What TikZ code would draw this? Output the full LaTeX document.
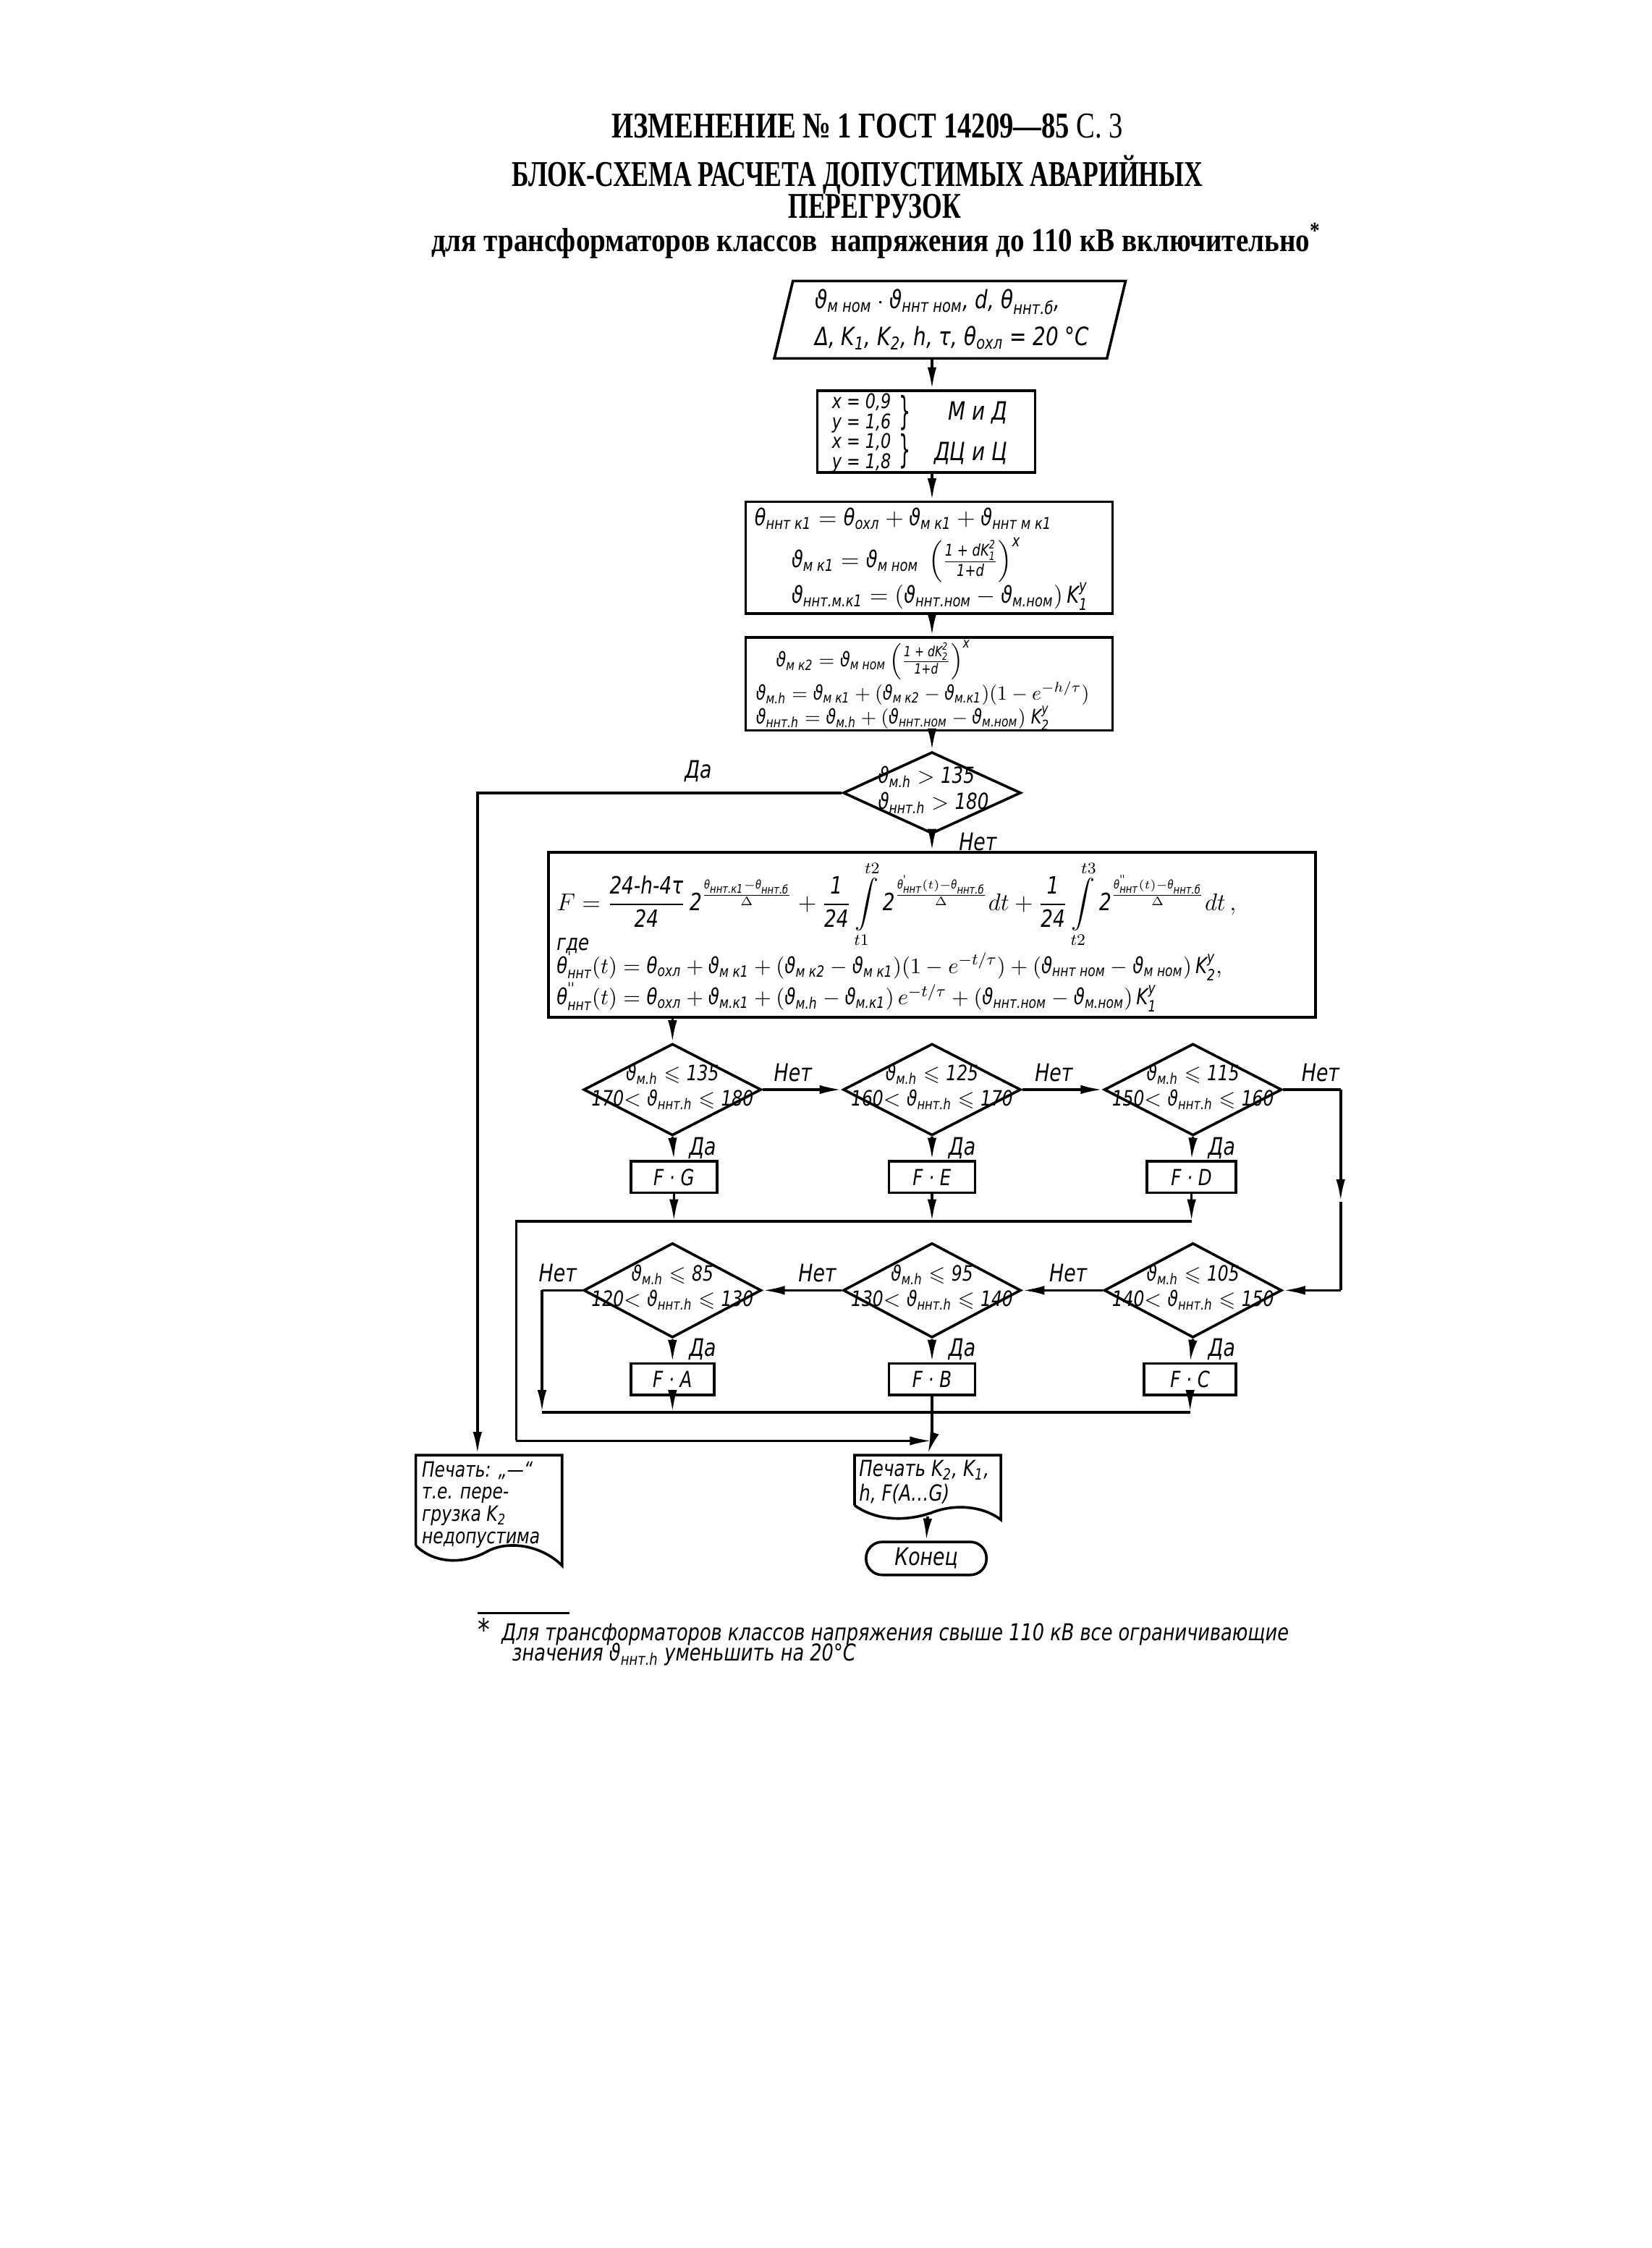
\documentclass[tikz,border=0pt]{standalone}
\usepackage{fontspec}
\usepackage{amsmath,amssymb}
\setmainfont{Liberation Serif}
\newfontfamily\titlefa[FakeStretch=0.77]{Liberation Serif}
\newfontfamily\titlefb[FakeStretch=0.71]{Liberation Serif}
\newfontfamily\titlefc[FakeStretch=0.85]{Liberation Serif}
\newfontfamily\gost[FakeStretch=0.8]{DejaVu Sans}
\usetikzlibrary{shapes.geometric,arrows.meta}
\newcommand\V[1]{\text{ϑ}_{\text{#1}}}
\newcommand\Th[1]{\text{θ}_{\text{#1}}}
\newcommand\Tp[2]{\text{θ}^{\text{#2}}_{\text{#1}}}
\newcommand\Kk[2]{\text{K}_{\text{#1}}^{\text{#2}}}
\newcommand\Ks[1]{\text{K}_{\text{#1}}}
\begin{document}
\begin{tikzpicture}[x=0.025cm,y=-0.025cm,
  sz/.style 2 args={minimum width=#1*0.025cm,minimum height=#2*0.025cm},
  blk/.style={draw,line width=1.3pt,inner sep=0pt},
  dia/.style={draw,diamond,line width=1.3pt,inner sep=0pt},
  arr/.style={line width=1.3pt,-{Latex[length=11pt,width=4.5pt]}},
  ln/.style={line width=1.3pt},
  txt/.style={font=\gost\itshape\fontsize{11}{13}\selectfont,inner sep=0pt},
  lbl/.style={font=\gost\itshape\fontsize{12}{14}\selectfont,inner sep=0pt},
  ttl/.style={inner sep=0pt}]
\useasboundingbox (0,0) rectangle (1152,1568);

% titles
\node[ttl,font=\titlefa\bfseries\fontsize{18}{20}\selectfont] (t1) at (605,88) {ИЗМЕНЕНИЕ № 1 ГОСТ 14209—85 {\mdseries С. 3}};
\node[ttl,font=\titlefb\bfseries\fontsize{18}{20}\selectfont] (t2) at (598,122) {БЛОК-СХЕМА РАСЧЕТА ДОПУСТИМЫХ АВАРИЙНЫХ};
\node[ttl,font=\titlefb\bfseries\fontsize{18}{20}\selectfont] (t3) at (610,144) {ПЕРЕГРУЗОК};
\node[ttl,font=\titlefc\bfseries\fontsize{16.5}{18}\selectfont] (t4) at (611,168) {для трансформаторов классов\ \ напряжения до 110 кВ включительно\textsuperscript{*}};

\coordinate (cx) at (650,0);
\coordinate (lx) at (333,0);
\coordinate (l1) at (360,0);
\coordinate (l2) at (378,0);
\coordinate (h1) at (0,852);
\coordinate (h3) at (0,985);
\coordinate (h2) at (0,1005);

% input
\node[txt,align=left,font=\gost\itshape\fontsize{12.5}{15}\selectfont] (in) at (664,223) {$\V{м ном}\cdot\V{ннт ном}$, d, $\Th{ннт.б}$,\\[3pt]Δ, $\Ks{1}$, $\Ks{2}$, h, τ, $\Th{охл}$ = 20 °C};
\draw[ln] (540,250) -- (553,196) -- (785,196) -- (772,250) -- cycle;
\coordinate (inb) at (650,250);

% box 2
\node[blk,sz={152}{57}] (b2) at (646,301) {};
\node[txt,anchor=west,align=left,font=\gost\itshape\fontsize{10}{9.9}\selectfont] (b2a) at (580,302) {x = 0,9\\y = 1,6\\x = 1,0\\y = 1,8};
\node[txt,font=\gost\fontsize{19}{19}\selectfont] (br1) at (631,288) {\scalebox{0.6}[1]{\}}};
\node[txt,font=\gost\fontsize{19}{19}\selectfont] (br2) at (631,315) {\scalebox{0.6}[1]{\}}};
\node[txt,font=\gost\itshape\fontsize{12.5}{15}\selectfont] (b2c) at (682,288) {М и Д};
\node[txt,font=\gost\itshape\fontsize{12.5}{15}\selectfont] (b2d) at (677,316) {ДЦ и Ц};

% box 3
\node[blk,sz={256}{78}] (b3) at (648,389) {};
\node[txt,align=left,anchor=west,font=\gost\itshape\fontsize{11.5}{13}\selectfont] (b3t) at (526,390) {$\Th{ннт к1} = \Th{охл} + \V{м к1} + \V{ннт м к1}$\\[3pt]
\hspace{1.6em}$\V{м к1} = \V{м ном}\ \left(\frac{\text{1 + d}\Kk{1}{2}}{\text{1+d}}\right)^{\text{x}}$\\[-1pt]
\hspace{1.6em}$\V{ннт.м.к1} = (\V{ннт.ном} - \V{м.ном})\,\Kk{1}{y}$};

% box 4
\node[blk,sz={256}{65}] (b4) at (648,477) {};
\node[txt,align=left,anchor=west,font=\gost\itshape\fontsize{10}{12}\selectfont] (b4t) at (527,478) {\hspace{1em}$\V{м к2} = \V{м ном}\left(\frac{\text{1 + d}\Kk{2}{2}}{\text{1+d}}\right)^{\text{x}}$\\
$\V{м.h} = \V{м к1} + (\V{м к2} - \V{м.к1})(1 - e^{-h/\tau})$\\
$\V{ннт.h} = \V{м.h} + (\V{ннт.ном} - \V{м.ном})\ \Kk{2}{y}$};

% decision 0
\node[dia,sz={124}{57}] (d0) at (650,553) {};
\node[txt,align=left] (d0t) at (651,551) {$\V{м.h} > \text{135}$\\$\V{ннт.h} > \text{180}$};

% box 5
\node[blk,sz={535}{115}] (b5) at (650,652) {};
\node[txt,align=left,anchor=west,font=\gost\itshape\fontsize{11}{12.5}\selectfont] (b5t) at (388,653) {{\fontsize{11.8}{13}\selectfont$\displaystyle F = \frac{\text{24-h-4τ}}{\text{24}}\,\text{2}^{\frac{\Th{ннт.к1} - \Th{ннт.б}}{\Delta}} + \frac{\text{1}}{\text{24}}\int\limits_{t1}^{t2} \text{2}^{\frac{\Tp{ннт}{'}(t) - \Th{ннт.б}}{\Delta}}dt + \frac{\text{1}}{\text{24}}\int\limits_{t2}^{t3} \text{2}^{\frac{\Tp{ннт}{''}(t)-\Th{ннт.б}}{\Delta}}dt\,,$}\\[-6pt]
где\\[-1pt]
$\Tp{ннт}{'}(t) = \Th{охл} + \V{м к1} + (\V{м к2} - \V{м к1})(1 - e^{-t/\tau}) + (\V{ннт ном} - \V{м ном})\,\Kk{2}{y},$\\[0pt]
$\Tp{ннт}{''}(t) = \Th{охл} + \V{м.к1} + (\V{м.h} - \V{м.к1})\,e^{-t/\tau} + (\V{ннт.ном} - \V{м.ном})\,\Kk{1}{y}$};

% row 1
\node[dia,sz={124}{64}] (d1) at (469,760) {};
\node[dia,sz={124}{64}] (d2) at (650,760) {};
\node[dia,sz={124}{64}] (d3) at (832,760) {};
\node[txt,align=center,font=\gost\itshape\fontsize{10.5}{12.5}\selectfont] (d1t) at (469,758) {$\V{м.h}\leqslant\text{135}$\\\text{170}$<\V{ннт.h}\leqslant\text{180}$};
\node[txt,align=center,font=\gost\itshape\fontsize{10.5}{12.5}\selectfont] (d2t) at (650,758) {$\V{м.h}\leqslant\text{125}$\\\text{160}$<\V{ннт.h}\leqslant\text{170}$};
\node[txt,align=center,font=\gost\itshape\fontsize{10.5}{12.5}\selectfont] (d3t) at (832,758) {$\V{м.h}\leqslant\text{115}$\\\text{150}$<\V{ннт.h}\leqslant\text{160}$};
\node[blk,sz={60}{22},txt] (bG) at (470,821) {F · G};
\node[blk,sz={60}{22},txt] (bE) at (650,821) {F · E};
\node[blk,sz={62}{22},txt] (bD) at (831,821) {F · D};

% row 2
\node[dia,sz={124}{66}] (d4) at (469,900) {};
\node[dia,sz={124}{66}] (d5) at (650,900) {};
\node[dia,sz={124}{66}] (d6) at (832,900) {};
\node[txt,align=center,font=\gost\itshape\fontsize{10.5}{12.5}\selectfont] (d4t) at (469,898) {$\V{м.h}\leqslant\text{85}$\\\text{120}$<\V{ннт.h}\leqslant\text{130}$};
\node[txt,align=center,font=\gost\itshape\fontsize{10.5}{12.5}\selectfont] (d5t) at (650,898) {$\V{м.h}\leqslant\text{95}$\\\text{130}$<\V{ннт.h}\leqslant\text{140}$};
\node[txt,align=center,font=\gost\itshape\fontsize{10.5}{12.5}\selectfont] (d6t) at (832,898) {$\V{м.h}\leqslant\text{105}$\\\text{140}$<\V{ннт.h}\leqslant\text{150}$};
\node[blk,sz={58}{22},txt] (bA) at (469,962) {F · A};
\node[blk,sz={60}{22},txt] (bB) at (650,962) {F · B};
\node[blk,sz={64}{22},txt] (bC) at (830,962) {F · C};

% print boxes
\node[sz={102}{75},inner sep=0pt] (pL) at (341,1052) {};
\node[txt,align=left,anchor=north west,font=\gost\itshape\fontsize{10.5}{11}\selectfont] (pLt) at (294,1019) {Печать: „—“\\т.е. пере-\\грузка $\Ks{2}$\\недопустима};
\draw[ln] (290,1078) -- (290,1015) -- (392,1015) -- (392,1092) .. controls (378,1078) and (355,1074) .. (340,1082) .. controls (322,1092) and (302,1090) .. (290,1078);
\node[sz={102}{43},inner sep=0pt] (pR) at (647,1036) {};
\node[txt,align=left,anchor=north west,font=\gost\itshape\fontsize{11}{12.5}\selectfont] (pRt) at (599,1018) {Печать $\Ks{2}$, $\Ks{1}$,\\h, F(A…G)};
\draw[ln] (596,1050) -- (596,1015) -- (698,1015) -- (698,1060) .. controls (685,1050) and (665,1049) .. (650,1055) .. controls (630,1062) and (610,1060) .. (596,1050);
\node[draw,line width=1.3pt,rounded corners=8pt,sz={84}{23},txt,font=\gost\itshape\fontsize{12}{14}\selectfont] (end) at (646,1087) {Конец};

% connectors
\draw[arr] (inb) -- (b2.north -| cx);
\draw[arr] (b2.south -| cx) -- (b3.north -| cx);
\draw[arr] (b3.south -| cx) -- (b4.north -| cx);
\draw[arr] (b4.south -| cx) -- (d0.north);
\draw[arr] (d0.west) -| (pL.north -| lx);
\node[lbl] (yes0) at (487,538) {Да};
\draw[arr] (d0.south) -- (b5.north);
\node[lbl] (no0) at (682,587) {Нет};
\draw[arr] (b5.south -| d1) -- (d1.north);

\draw[arr] (d1.east) -- (d2.west);
\draw[arr] (d2.east) -- (d3.west);
\node[lbl] (no1) at (553,748) {Нет};
\node[lbl] (no2) at (735,748) {Нет};
\node[lbl] (no3) at (921,748) {Нет};
\coordinate (r1) at (935,760);
\coordinate (rm) at (935,838);
\coordinate (r2) at (935,900);
\draw[ln] (d3.east) -- (r1);
\draw[arr] (r1) -- (rm);
\draw[ln] (rm) -- (r2);
\draw[arr] (r2) -- (d6.east);

\draw[arr] (d1.south) -- (bG.north);
\draw[arr] (d2.south) -- (bE.north);
\draw[arr] (d3.south) -- (bD.north);
\node[lbl] (y1) at (490,801) {Да};
\node[lbl] (y2) at (671,801) {Да};
\node[lbl] (y3) at (852,801) {Да};
\draw[arr] (bG.south) -- (bG.south |- h1);
\draw[arr] (bE.south) -- (bE.south |- h1);
\draw[arr] (bD.south) -- (bD.south |- h1);
\draw[ln] (bD.south |- h1) -- (l1 |- h1) -- (l1 |- h2);
\draw[arr] (l1 |- h2) -- (cx |- h2);

\draw[arr] (d6.west) -- (d5.east);
\draw[arr] (d5.west) -- (d4.east);
\node[lbl] (no4) at (389,888) {Нет};
\node[lbl] (no5) at (570,888) {Нет};
\node[lbl] (no6) at (745,888) {Нет};
\draw[ln] (d4.west) -- (l2 |- d4.west);
\draw[arr] (l2 |- d4.west) -- (l2 |- h3);

\draw[arr] (d4.south) -- (bA.north);
\draw[arr] (d5.south) -- (bB.north);
\draw[arr] (d6.south) -- (bC.north);
\node[lbl] (y4) at (490,941) {Да};
\node[lbl] (y5) at (671,941) {Да};
\node[lbl] (y6) at (852,941) {Да};
\draw[arr] (bA.south) -- (bA.south |- h3);
\draw[arr] (bC.south) -- (bC.south |- h3);
\draw[ln] (l2 |- h3) -- (bC.south |- h3);
\draw[ln] (bB.south) -- (cx |- h2);
\draw[arr] (cx |- h2) -- (pR.north);
\draw[arr] (pR.south) -- (end.north);

% footnote
\coordinate (fa) at (333,1125);
\coordinate (fb) at (397,1125);
\draw[line width=1pt] (fa) -- (fb);
\node[txt,anchor=west,font=\gost\itshape\fontsize{11.5}{13}\selectfont] (fn1) at (333,1138) {{\fontsize{15}{15}\selectfont *}\ \ Для трансформаторов классов напряжения свыше 110 кВ все ограничивающие};
\node[txt,anchor=west,font=\gost\itshape\fontsize{11.5}{13}\selectfont] (fn2) at (357,1154) {значения $\V{ннт.h}$ уменьшить на 20°С};
\end{tikzpicture}
\end{document}
